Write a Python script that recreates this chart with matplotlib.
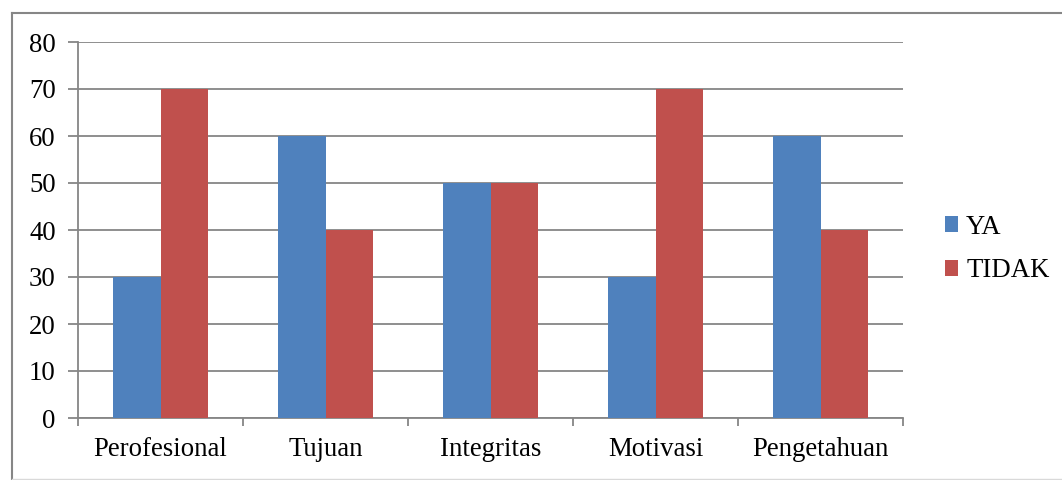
import matplotlib
matplotlib.use("Agg")
import matplotlib.pyplot as plt
import numpy as np
from matplotlib.patches import Patch
from matplotlib.lines import Line2D

categories = ["Perofesional", "Tujuan", "Integritas", "Motivasi", "Pengetahuan"]
ya = [30, 60, 50, 30, 60]
tidak = [70, 40, 50, 70, 40]
yticks = [0, 10, 20, 30, 40, 50, 60, 70, 80]

blue = "#4F81BD"
red = "#C0504D"
grid = "#868686"

plt.rcParams['font.family'] = ['Liberation Serif', 'DejaVu Serif']
FS = 19.3

W, H = 1062, 480
fig = plt.figure(figsize=(W / 100, H / 100), dpi=100)
ax = fig.add_axes([78 / W, 1 - 418 / H, (903 - 78) / W, (418 - 42) / H])

x = np.arange(len(categories))
bw = 1 / 3.5
ax.bar(x - bw / 2, ya, width=bw, color=blue, zorder=3, label="YA")
ax.bar(x + bw / 2, tidak, width=bw, color=red, zorder=3, label="TIDAK")

ax.set_xlim(-0.5, len(categories) - 0.5)
ax.set_ylim(0, 80)
ax.set_yticks(yticks)
ax.yaxis.grid(True, color=grid, linewidth=1.3, zorder=0)
ax.tick_params(axis='y', direction='out', length=7, width=1.3, color=grid,
               labelsize=FS, pad=9)

bounds = np.arange(len(categories) + 1) - 0.5
ax.set_xticks(bounds)
ax.set_xticklabels([])
ax.set_xticks(x, minor=True)
ax.set_xticklabels(categories, minor=True)
ax.tick_params(axis='x', which='major', direction='out', length=6, width=1.3, color=grid)
ax.tick_params(axis='x', which='minor', length=0, labelsize=FS, pad=14)

for s in ['top', 'right']:
    ax.spines[s].set_visible(False)
for s in ['left', 'bottom']:
    ax.spines[s].set_color(grid)
    ax.spines[s].set_linewidth(1.3)

# outer chart border (cropped at right/bottom)
fig.add_artist(Line2D([12 / W, 12 / W], [1 - 13 / H, 0], color=grid, linewidth=1.5,
                      transform=fig.transFigure))
fig.add_artist(Line2D([12 / W, 1], [1 - 13 / H, 1 - 13 / H], color=grid, linewidth=1.5,
                      transform=fig.transFigure))
fig.add_artist(Line2D([12 / W, 1], [1 - 479 / H, 1 - 479 / H], color="#d9d9d9", linewidth=1,
                      transform=fig.transFigure))

handles = [Patch(facecolor=blue, edgecolor='none'), Patch(facecolor=red, edgecolor='none')]
fig.legend(handles, ["YA", "TIDAK"], loc='center left',
           bbox_to_anchor=(934 / W, 1 - 249 / H), frameon=False, fontsize=FS,
           handlelength=0.5, handleheight=0.5, handletextpad=0.3, labelspacing=0.7,
           borderaxespad=0)

fig.savefig("out.png", dpi=100)
